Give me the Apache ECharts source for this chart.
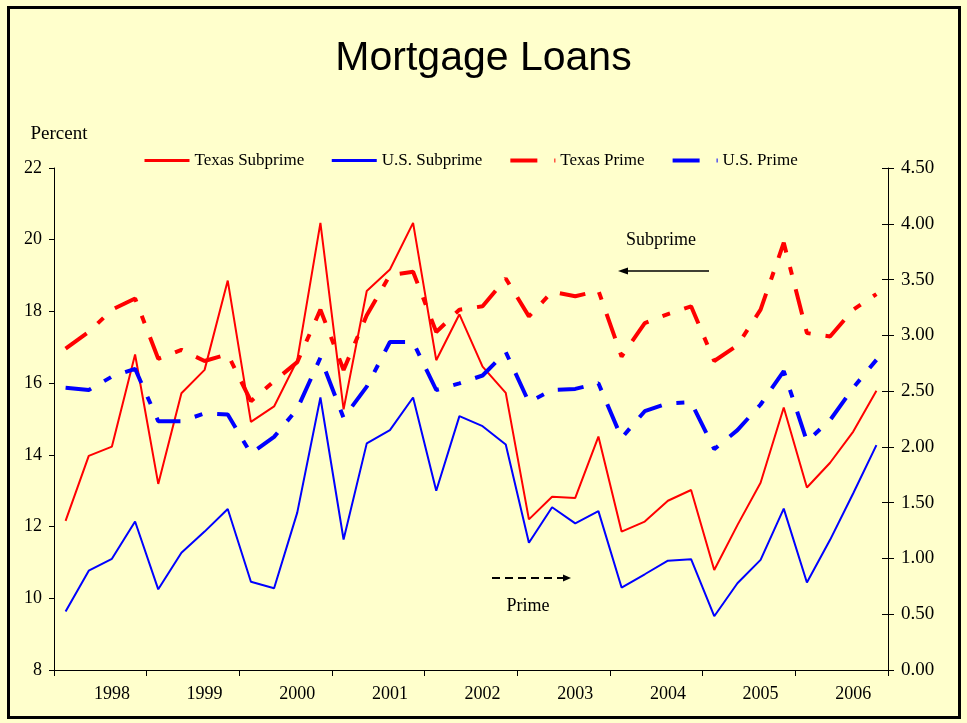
<!DOCTYPE html>
<html>
<head>
<meta charset="utf-8">
<script src="https://cdn.jsdelivr.net/npm/echarts@6/dist/echarts.min.js"></script>
<style>
html,body{margin:0;padding:0;background:#FFFFCC;}
#chart{width:967px;height:723px;}
</style>
</head>
<body>
<div id="chart"></div>
<script>
const years = ['1998','1999','2000','2001','2002','2003','2004','2005','2006'];
const quarters = ['Q1','Q2','Q3','Q4'];
const categories = years.flatMap(y => quarters.map(q => y + ' ' + q));

// Left axis (subprime, percent)
const texasSubprime = [12.16, 13.97, 14.23, 16.80, 13.19, 15.72, 16.37, 18.86, 14.92, 15.35,
  16.64, 20.47, 15.27, 18.57, 19.17, 20.47, 16.64, 17.92, 16.46, 15.73,
  12.20, 12.83, 12.80, 14.51, 11.86, 12.14, 12.72, 13.02, 10.79, 12.04,
  13.22, 15.32, 13.09, 13.78, 14.65, 15.79];
const usSubprime = [9.63, 10.77, 11.10, 12.14, 10.25, 11.27, 11.86, 12.49, 10.46, 10.28,
  12.39, 15.60, 11.64, 14.32, 14.69, 15.60, 13.00, 15.08, 14.80, 14.29,
  11.55, 12.54, 12.09, 12.43, 10.30, 10.67, 11.05, 11.09, 9.50, 10.42,
  11.07, 12.50, 10.44, 11.63, 12.93, 14.27];
// Right axis (prime)
const texasPrime = [2.88, 3.03, 3.23, 3.33, 2.79, 2.87, 2.77, 2.83, 2.41, 2.59,
  2.76, 3.23, 2.69, 3.18, 3.54, 3.57, 3.03, 3.23, 3.26, 3.51,
  3.17, 3.39, 3.35, 3.40, 2.81, 3.11, 3.19, 3.26, 2.77, 2.91,
  3.23, 3.83, 3.02, 2.99, 3.23, 3.37];
const usPrime = [2.53, 2.51, 2.63, 2.70, 2.23, 2.23, 2.30, 2.29, 1.94, 2.09,
  2.34, 2.80, 2.26, 2.54, 2.94, 2.94, 2.51, 2.57, 2.64, 2.85,
  2.40, 2.51, 2.52, 2.57, 2.08, 2.32, 2.39, 2.40, 1.98, 2.15,
  2.38, 2.68, 2.05, 2.24, 2.53, 2.78];

const leftAxisRange = [8, 22, 2];
const rightAxisRange = [0, 4.5, 0.5];

const SERIF = '"Liberation Serif", "Times New Roman", serif';
const SANS = '"Liberation Sans", Arial, sans-serif';
const dashPattern = [26, 15, 8, 15];

const chart = echarts.init(document.getElementById('chart'), null, {renderer: 'canvas'});

const option = {
  backgroundColor: '#FFFFCC',
  animation: false,
  title: {
    text: 'Mortgage Loans',
    left: 'center',
    top: 38,
    padding: 0,
    textStyle: {fontFamily: SANS, fontSize: 41, fontWeight: 'normal', color: '#000'}
  },
  legend: {
    left: 143,
    top: 152,
    padding: 0,
    itemWidth: 45,
    itemHeight: 14,
    itemGap: 26,
    itemStyle: {opacity: 0},
    textStyle: {fontFamily: SERIF, fontSize: 17, color: '#000'},
    data: [
      {name: 'Texas Subprime', lineStyle: {width: 3}},
      {name: 'U.S. Subprime', lineStyle: {width: 3}},
      {name: 'Texas Prime', lineStyle: {width: 4, type: [27, 17, 8, 17]}},
      {name: 'U.S. Prime', lineStyle: {width: 4, type: [27, 17, 8, 17]}}
    ]
  },
  grid: {left: 54, right: 79, top: 168, bottom: 53, containLabel: false},
  xAxis: {
    type: 'category',
    data: categories,
    boundaryGap: true,
    axisLine: {show: true, lineStyle: {color: '#000', width: 1}},
    axisTick: {show: true, length: 6, lineStyle: {color: '#000'}, interval: (i) => i % 4 === 0},
    axisLabel: {
      interval: (i) => i % 4 === 2,
      formatter: (v) => v.slice(0, 4),
      fontFamily: SERIF, fontSize: 18, color: '#000', margin: 15
    },
    splitLine: {show: false}
  },
  yAxis: [
    {
      type: 'value', position: 'left',
      min: leftAxisRange[0], max: leftAxisRange[1], interval: leftAxisRange[2],
      name: 'Percent', nameLocation: 'end', nameGap: 24,
      nameTextStyle: {fontFamily: SERIF, fontSize: 19, color: '#000', align: 'center', padding: [0, 0, 0, 10]},
      axisLine: {show: true, lineStyle: {color: '#000', width: 1}},
      axisTick: {show: true, length: 5, lineStyle: {color: '#000'}},
      axisLabel: {fontFamily: SERIF, fontSize: 18, color: '#000', margin: 12},
      splitLine: {show: false}
    },
    {
      type: 'value', position: 'right',
      min: rightAxisRange[0], max: rightAxisRange[1], interval: rightAxisRange[2],
      axisLine: {show: true, lineStyle: {color: '#000', width: 1}},
      axisTick: {show: true, length: 6, lineStyle: {color: '#000'}},
      axisLabel: {fontFamily: SERIF, fontSize: 19, color: '#000', margin: 13, formatter: (v) => v.toFixed(2)},
      splitLine: {show: false}
    },
    {
      type: 'value', position: 'right',
      min: rightAxisRange[0], max: rightAxisRange[1], interval: rightAxisRange[2],
      axisLine: {show: false},
      axisTick: {show: true, inside: true, length: 6, lineStyle: {color: '#000'}},
      axisLabel: {show: false},
      splitLine: {show: false}
    }
  ],
  series: [
    {name: 'Texas Subprime', type: 'line', yAxisIndex: 0, data: texasSubprime, symbol: 'none',
     lineStyle: {color: '#FF0000', width: 2}, itemStyle: {color: '#FF0000'}},
    {name: 'U.S. Subprime', type: 'line', yAxisIndex: 0, data: usSubprime, symbol: 'none',
     lineStyle: {color: '#0000FF', width: 2}, itemStyle: {color: '#0000FF'}},
    {name: 'Texas Prime', type: 'line', yAxisIndex: 1, data: texasPrime, symbol: 'none',
     lineStyle: {color: '#FF0000', width: 4, type: dashPattern}, itemStyle: {color: '#FF0000'}},
    {name: 'U.S. Prime', type: 'line', yAxisIndex: 1, data: usPrime, symbol: 'none',
     lineStyle: {color: '#0000FF', width: 4, type: dashPattern}, itemStyle: {color: '#0000FF'}}
  ],
  graphic: [
    {type: 'rect', silent: true, z: 100,
     shape: {x: 8.5, y: 7.5, width: 951, height: 710},
     style: {fill: 'none', stroke: '#000', lineWidth: 3}},
    {type: 'text', silent: true, x: 661, y: 240,
     style: {text: 'Subprime', font: '18px ' + SERIF, fill: '#000', align: 'center', verticalAlign: 'middle'}},
    {type: 'line', silent: true, shape: {x1: 626, y1: 271, x2: 709, y2: 271},
     style: {stroke: '#000', lineWidth: 1.5}},
    {type: 'polygon', silent: true, shape: {points: [[618, 271], [628, 267.5], [628, 274.5]]},
     style: {fill: '#000'}},
    {type: 'line', silent: true, shape: {x1: 492, y1: 578, x2: 563, y2: 578},
     style: {stroke: '#000', lineWidth: 2, lineDash: [8, 5]}},
    {type: 'polygon', silent: true, shape: {points: [[571, 578], [563, 574.5], [563, 581.5]]},
     style: {fill: '#000'}},
    {type: 'text', silent: true, x: 528, y: 606,
     style: {text: 'Prime', font: '18px ' + SERIF, fill: '#000', align: 'center', verticalAlign: 'middle'}}
  ]
};

chart.setOption(option);
</script>
</body>
</html>
